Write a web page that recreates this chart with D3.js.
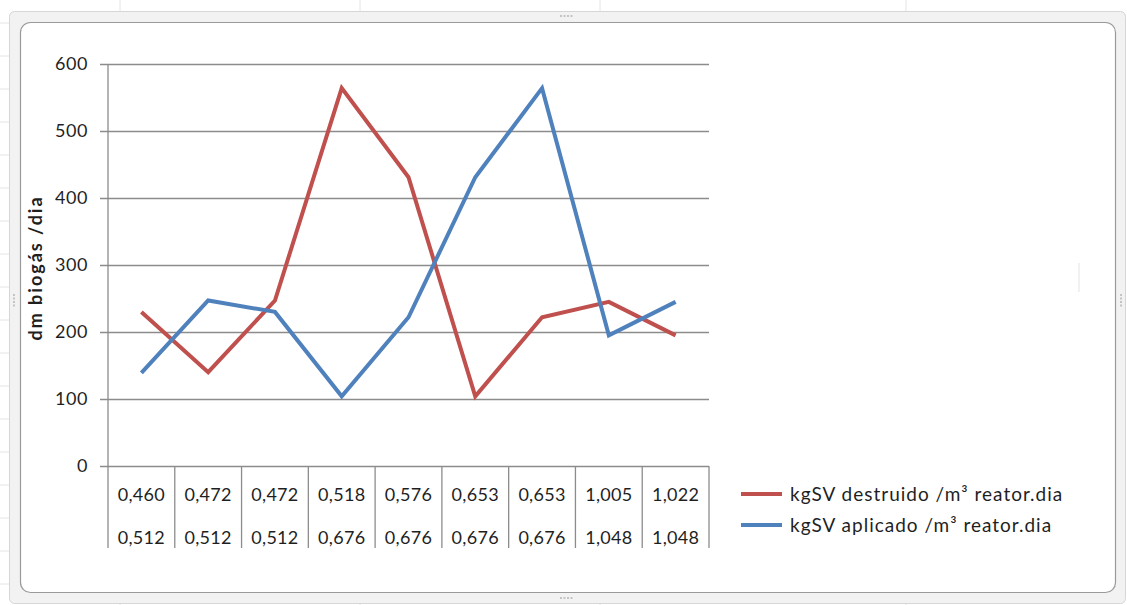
<!DOCTYPE html>
<html>
<head>
<meta charset="utf-8">
<script src="https://cdn.jsdelivr.net/npm/d3@7"></script>
<style>
  html, body { margin: 0; padding: 0; background: #ffffff; }
  svg { display: block; }
  text { font-family: Lato, "Open Sans", sans-serif; fill: #1f1f1f; }
</style>
</head>
<body>
<svg id="chart" width="1127" height="605"></svg>
<script>
// Category labels (two rows per column)
const topLabels = ["0,460", "0,472", "0,472", "0,518", "0,576", "0,653", "0,653", "1,005", "1,022"];
const bottomLabels = ["0,512", "0,512", "0,512", "0,676", "0,676", "0,676", "0,676", "1,048", "1,048"];

// Series values (dm biogás /dia)
const destruido = [230, 140, 247, 564, 431, 104, 222, 245, 195];
const aplicado = [139, 247, 230, 104, 222, 431, 564, 195, 245];

const seriesNames = ["kgSV destruido /m³ reator.dia", "kgSV aplicado /m³ reator.dia"];
const seriesColors = ["#C0504D", "#4F81BD"];

const yTicks = [0, 100, 200, 300, 400, 500, 600];

const svg = d3.select("#chart");

// Spreadsheet backdrop and chart frame
const backdrop = svg.append("g");
[120, 360, 600, 906].forEach(x => {
  backdrop.append("line").attr("x1", x).attr("x2", x).attr("y1", 0).attr("y2", 605)
    .attr("stroke", "#e4e4e4").attr("stroke-width", 1);
});
d3.range(23, 605, 33).forEach(y => {
  backdrop.append("line").attr("x1", 0).attr("x2", 12).attr("y1", y).attr("y2", y)
    .attr("stroke", "#e4e4e4").attr("stroke-width", 1);
});
backdrop.append("rect").attr("x", 9.5).attr("y", 11.5).attr("width", 1116).attr("height", 592)
  .attr("rx", 5).attr("fill", "#f2f2f2").attr("stroke", "#d6d6d6");
backdrop.append("rect").attr("x", 20.5).attr("y", 22.5).attr("width", 1095).attr("height", 570)
  .attr("rx", 10).attr("fill", "#ffffff").attr("stroke", "#9a9a9a").attr("stroke-width", 1.2);
// grip dots on the frame
[[566, 16, "h"], [566, 598, "h"], [14, 300, "v"], [1121, 300, "v"]].forEach(([x, y, o]) => {
  for (let i = 0; i < 4; i++) {
    backdrop.append("rect")
      .attr("x", o === "h" ? x - 6 + i * 3.5 : x - 1)
      .attr("y", o === "h" ? y - 1 : y - 6 + i * 3.5)
      .attr("width", 2).attr("height", 2).attr("fill", "#c4c4c4");
  }
});
backdrop.append("line").attr("x1", 1079).attr("x2", 1079).attr("y1", 263).attr("y2", 292)
  .attr("stroke", "#ececec").attr("stroke-width", 1.5);

// Plot area
const plot = { left: 108, right: 709, top: 64, bottom: 466 };

const x = d3.scaleBand()
  .domain(d3.range(topLabels.length))
  .range([plot.left, plot.right])
  .padding(0);

const y = d3.scaleLinear()
  .domain([0, 600])
  .range([plot.bottom, plot.top]);

// Horizontal gridlines with left tick marks
const yAxis = d3.axisLeft(y)
  .tickValues(yTicks)
  .tickSize(plot.right - plot.left + 8)
  .tickPadding(12)
  .tickFormat(d3.format("d"));

const yg = svg.append("g")
  .attr("transform", `translate(${plot.right},0)`)
  .call(yAxis);
yg.select(".domain").remove();
yg.selectAll(".tick line").attr("stroke", "#8c8c8c").attr("stroke-width", 1.3);
yg.selectAll(".tick text")
  .attr("font-size", 18)
  .attr("letter-spacing", 0.6)
  .style("font-family", "Lato, 'Open Sans', sans-serif")
  .attr("fill", "#1f1f1f");

// Vertical axis line
svg.append("line")
  .attr("x1", plot.left).attr("x2", plot.left)
  .attr("y1", plot.top).attr("y2", plot.bottom)
  .attr("stroke", "#8c8c8c").attr("stroke-width", 1.3);

// Category table under the axis
const tableBottom = 548;
const bounds = x.domain().map(i => x(i)).concat([x(x.domain().length - 1) + x.bandwidth()]);
svg.append("g").selectAll("line")
  .data(bounds)
  .join("line")
  .attr("x1", d => d).attr("x2", d => d)
  .attr("y1", plot.bottom).attr("y2", tableBottom)
  .attr("stroke", "#8c8c8c").attr("stroke-width", 1.3);

const labelsG = svg.append("g").attr("font-size", 18).attr("letter-spacing", 0.3).attr("text-anchor", "middle");
labelsG.selectAll("text.top")
  .data(topLabels)
  .join("text")
  .attr("class", "top")
  .attr("x", (d, i) => x(i) + x.bandwidth() / 2)
  .attr("y", 501)
  .text(d => d);
labelsG.selectAll("text.bottom")
  .data(bottomLabels)
  .join("text")
  .attr("class", "bottom")
  .attr("x", (d, i) => x(i) + x.bandwidth() / 2)
  .attr("y", 544)
  .text(d => d);

// Y axis title
svg.append("text")
  .attr("transform", `translate(42,${(plot.top + plot.bottom) / 2 + 3}) rotate(-90)`)
  .attr("text-anchor", "middle")
  .attr("font-size", 18)
  .attr("letter-spacing", 2)
  .attr("font-weight", "bold")
  .attr("fill", "#000")
  .text("dm biogás /dia");

// Series lines
const line = d3.line()
  .x((d, i) => x(i) + x.bandwidth() / 2)
  .y(d => y(d));

[destruido, aplicado].forEach((vals, k) => {
  svg.append("path")
    .datum(vals)
    .attr("fill", "none")
    .attr("stroke", seriesColors[k])
    .attr("stroke-width", 4)
    .attr("stroke-linejoin", "miter")
    .attr("d", line);
});

// Legend
const legend = svg.append("g").attr("transform", "translate(741,494)");
seriesNames.forEach((name, k) => {
  const row = legend.append("g").attr("transform", `translate(0,${k * 31})`);
  row.append("line").attr("x1", 0).attr("x2", 41).attr("y1", 0).attr("y2", 0)
    .attr("stroke", seriesColors[k]).attr("stroke-width", 4);
  row.append("text").attr("x", 49).attr("y", 7).attr("font-size", 19)
    .attr("letter-spacing", 1).text(name);
});
</script>
</body>
</html>
